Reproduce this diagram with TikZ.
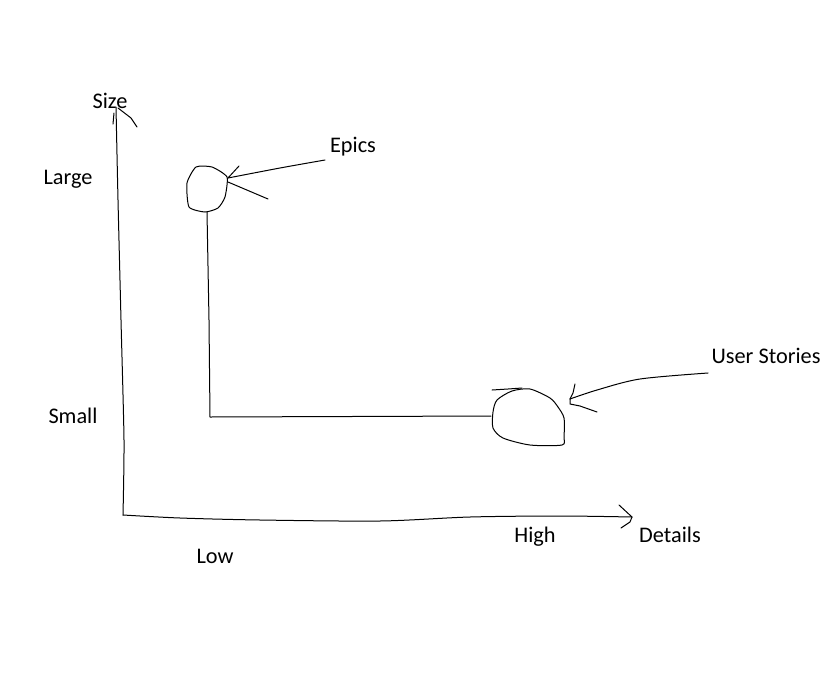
\documentclass[tikz,border=0pt]{standalone}
\usepackage{fontspec}
\setmainfont{Carlito}
\begin{document}
\begin{tikzpicture}[x=1pt,y=-1pt,
  ink/.style={draw=black,line width=1pt,line join=round,line cap=round},
  lbl/.style={inner sep=0pt,font=\fontsize{22.3}{25}\selectfont,text=black}]
\useasboundingbox[fill=white] (0,0) rectangle (836,678);
% labels
\node[lbl] (size) at (110,101) {Size};
\node[lbl] (epics) at (353,147) {Epics};
\node[lbl] (large) at (68,179) {Large};
\node[lbl] (small) at (73,416) {Small};
\node[lbl] (us) at (766,356) {User Stories};
\node[lbl] (low) at (215,556) {Low};
\node[lbl] (high) at (535,537) {High};
\node[lbl] (details) at (670,535) {Details};
% key points
\coordinate (origin) at (123,515);
\coordinate (ytip) at (116,107);
\coordinate (xtip) at (632,517);
\coordinate (etip) at (228,178);
\coordinate (estart) at (325,160);
\coordinate (eb) at (207,212);
\coordinate (ecorner) at (210,417);
\coordinate (ub) at (491,416);
\coordinate (utip) at (570,399);
\coordinate (ustart) at (708,373);
% vertical axis
\draw[ink] plot[smooth,tension=0.4] coordinates {(origin) (124,440) (121,320) (118,200) (ytip)};
\draw[ink] (114,113) -- (113,124);
\draw[ink] (118,108) -- (131,118) -- (137,127);
% horizontal axis
\draw[ink] plot[smooth,tension=0.5] coordinates {(origin) (180,518) (260,520) (380,521) (470,517) (560,516) (xtip)};
\draw[ink] (619,505) -- (xtip);
\draw[ink] (xtip) -- (630,522) -- (621,528);
% epics blob
\draw[ink] plot[smooth cycle,tension=0.35] coordinates {(196,167) (212,167) (227,177) (225,197) (218,208) (205,212) (189,207) (187,183)};
% epics arrow
\draw[ink] plot[smooth,tension=0.5] coordinates {(estart) (280,168) (etip)};
\draw[ink] (etip) -- (239,166);
\draw[ink] (228,182) -- (268,199);
% connector epics -> user stories
\draw[ink] (eb) -- (209,320) -- (ecorner) -- (ub);
% user stories blob
\draw[ink] plot[smooth cycle,tension=0.45] coordinates {(512,391) (497,400) (493,412) (493,428) (503,438) (530,445) (562,445) (564,437) (564,418) (558,407) (550,398) (530,389)};
\draw[ink] (492,390) -- (508,389) -- (522,388);
% user stories arrow
\draw[ink] plot[smooth,tension=0.5] coordinates {(ustart) (640,379) (597,390) (utip)};
\draw[ink] (utip) -- (573,393) -- (575,384);
\draw[ink] (utip) -- (570,404) -- (580,406) -- (597,412);
\end{tikzpicture}
\end{document}
